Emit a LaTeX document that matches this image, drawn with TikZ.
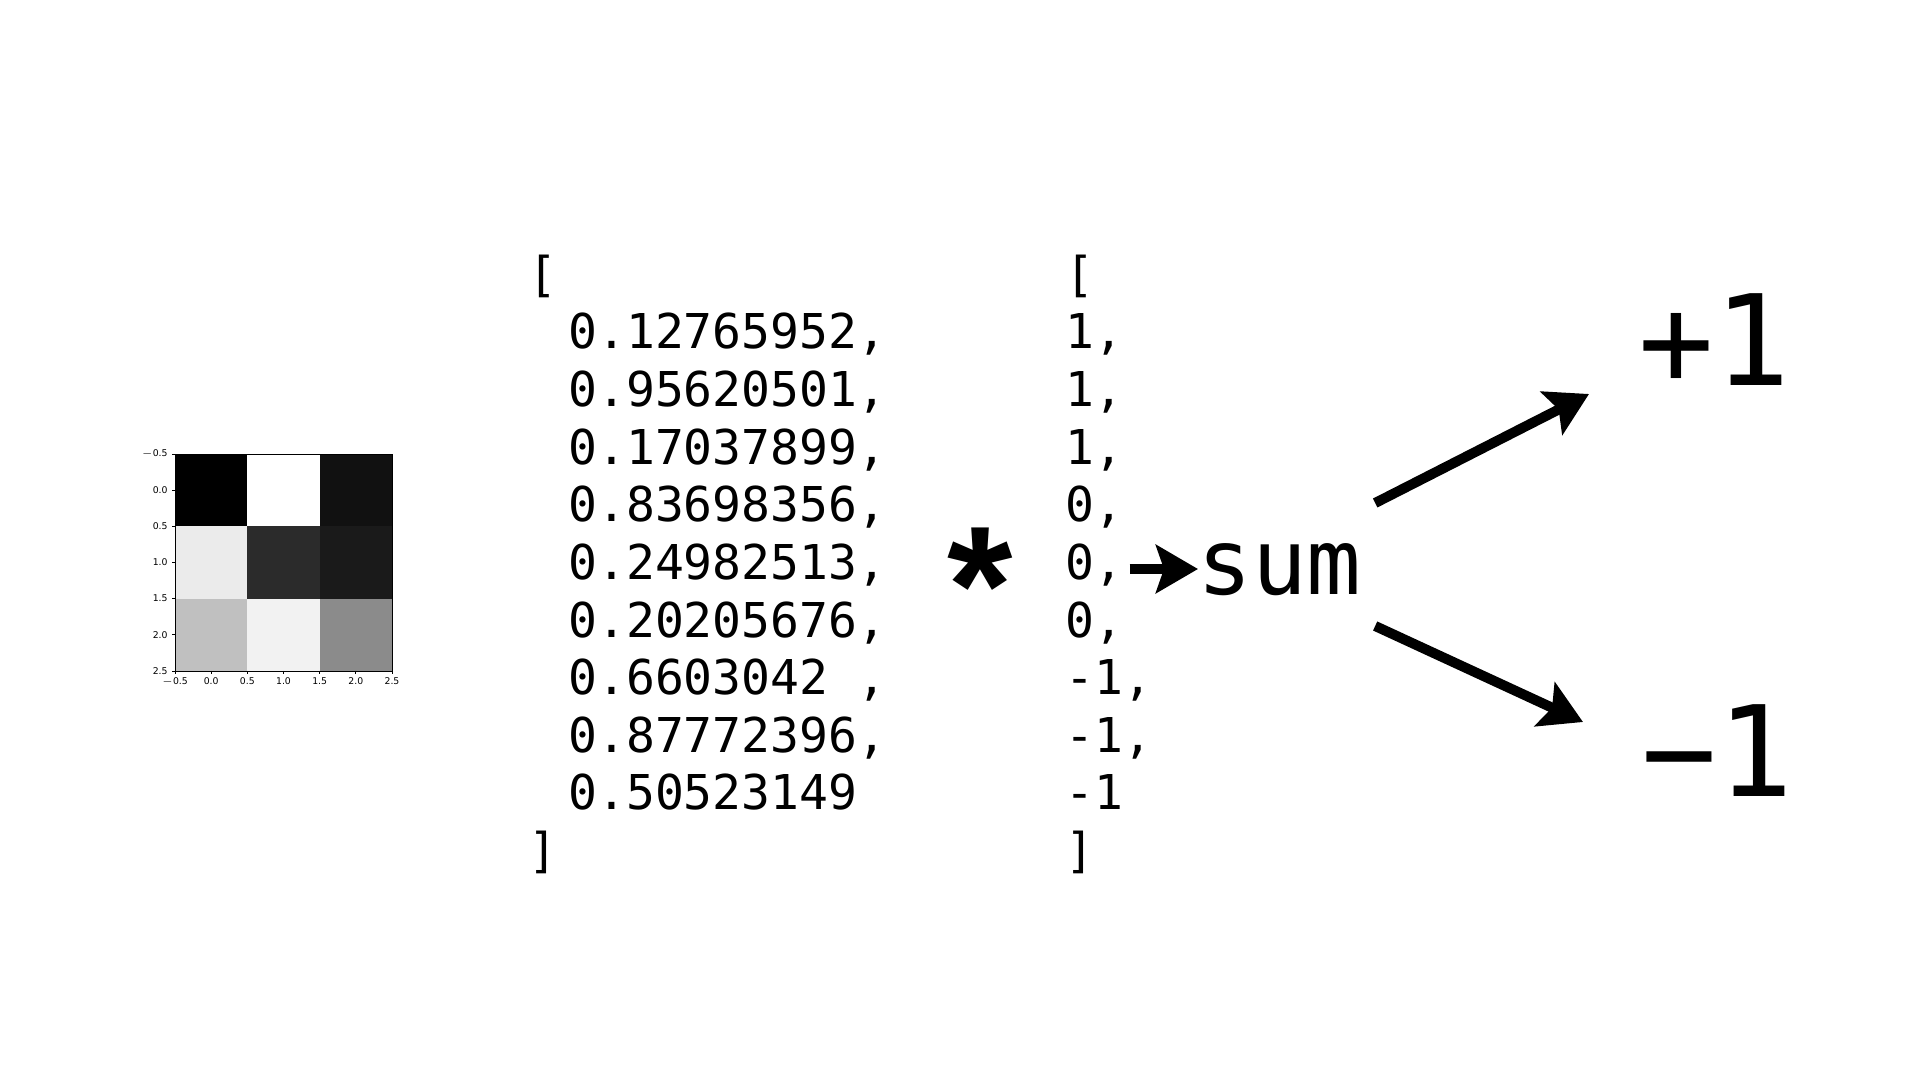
\documentclass[tikz,border=0pt]{standalone}
\usepackage{fontspec}
\setmonofont{DejaVu Sans Mono}
\newfontfamily\plotfont{DejaVu Sans}
\newfontfamily\starfont{Liberation Sans}
\usetikzlibrary{arrows.meta,calc}
\definecolor{cA}{HTML}{000000}
\definecolor{cB}{HTML}{FFFFFF}
\definecolor{cC}{HTML}{111111}
\definecolor{cD}{HTML}{EBEBEB}
\definecolor{cE}{HTML}{2B2B2B}
\definecolor{cF}{HTML}{1A1A1A}
\definecolor{cG}{HTML}{C0C0C0}
\definecolor{cH}{HTML}{F2F2F2}
\definecolor{cI}{HTML}{8B8B8B}
\begin{document}
\begin{tikzpicture}[x=0.5pt,y=-0.5pt,
  code/.style={font=\ttfamily\fontsize{24}{24}\selectfont, anchor=base west, inner sep=0pt},
  bigcode/.style={font=\ttfamily\fontsize{45.5}{45.5}\selectfont, anchor=base west, inner sep=0pt},
  hugecode/.style={font=\ttfamily\fontsize{63}{63}\selectfont, anchor=base west, inner sep=0pt},
  ticklab/.style={font=\plotfont\fontsize{4.65}{4.65}\selectfont, inner sep=0pt},
  arr/.style={line width=5pt, -{Stealth[length=21pt, width=24pt, inset=4pt]}}]
\useasboundingbox[fill=white] (0,0) rectangle (1920,1080);
% heatmap
\def\L{175}\def\T{454}\def\S{72.33}
\foreach \col [count=\n from 0] in {cA,cB,cC,cD,cE,cF,cG,cH,cI}{
  \pgfmathtruncatemacro{\r}{int(\n/3)}
  \pgfmathtruncatemacro{\c}{mod(\n,3)}
  \fill[\col] ({\L+\c*\S},{\T+\r*\S}) rectangle ({\L+(\c+1)*\S},{\T+(\r+1)*\S});
}
\draw[line width=0.45pt] (\L,\T) rectangle ({\L+3*\S},{\T+3*\S});
\foreach \lab [count=\k from 0] in {$-$0.5,0.0,0.5,1.0,1.5,2.0,2.5}{
  \draw[line width=0.45pt] (\L,{\T+\k*\S/2}) -- ({\L-3.5},{\T+\k*\S/2});
  \node[ticklab, anchor=east] (yl\k) at ({\L-7},{\T+\k*\S/2}) {\lab};
  \draw[line width=0.45pt] ({\L+\k*\S/2},{\T+3*\S}) -- ({\L+\k*\S/2},{\T+3*\S+3.5});
  \node[ticklab, anchor=north] (xl\k) at ({\L+\k*\S/2},{\T+3*\S+6}) {\lab};
}
% left column
\node[code] (v0) at (528,291.4) {[};
\foreach \t [count=\i from 1] in {{0.12765952,},{0.95620501,},{0.17037899,},{0.83698356,},{0.24982513,},{0.20205676,},{0.6603042 ,},{0.87772396,},{0.50523149}}{
  \node[code] (v\i) at (568,{291.4+57.6*\i}) {\t};
}
\node[code] (v10) at (528,867.4) {]};
% right column
\foreach \t [count=\i from 0] in {{[},{1,},{1,},{1,},{0,},{0,},{0,},{-1,},{-1,},{-1},{]}}{
  \node[code] (w\i) at (1065,{291.4+57.6*\i}) {\t};
}
% star
\node[font=\starfont\bfseries\fontsize{84}{84}\selectfont, anchor=base, inner sep=0pt] (star) at (980,643) {*};
% sum and outputs
\node[bigcode] (sumn) at (1197,594) {sum};
\node[hugecode] (p1) at (1638,386) {+1};
\node[hugecode] (m1) at (1641,796) {−1};
% arrows
\draw[arr] ([shift={(6,-10.4)}]w5.base east) -- ([shift={(1,-25)}]sumn.base west);
\draw[arr] ([shift={(13,-91)}]sumn.base east) -- ([shift={(-49,8)}]p1.base west);
\draw[arr] ([shift={(13,32)}]sumn.base east) -- ([shift={(-58,-74)}]m1.base west);
\end{tikzpicture}
\end{document}
